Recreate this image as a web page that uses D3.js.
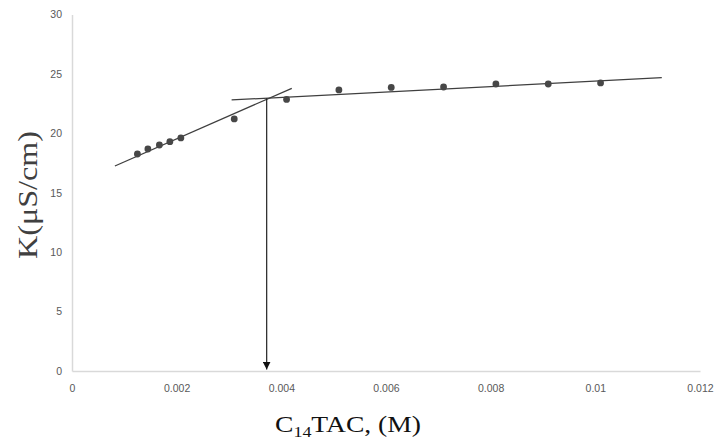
<!DOCTYPE html>
<html>
<head>
<meta charset="utf-8">
<script src="https://cdn.jsdelivr.net/npm/d3@7"></script>
<style>
  html, body { margin: 0; padding: 0; background: #fff; }
  svg { display: block; }
</style>
</head>
<body>
<svg id="chart" width="715" height="445"></svg>
<script>
// Conductivity of C14TAC solutions against concentration
const concentration = [0.00125, 0.00145, 0.00167, 0.00187, 0.00208, 0.0031, 0.0041, 0.0051, 0.0061, 0.0071, 0.0081, 0.0091, 0.0101];
const conductivity  = [18.26, 18.68, 19.02, 19.30, 19.61, 21.21, 22.85, 23.65, 23.86, 23.90, 24.15, 24.15, 24.24];

// Linear fits below and above the break, given by their end points
const fitLow  = [[0.00082, 17.25], [0.0042, 23.79]];
const fitHigh = [[0.00305, 22.81], [0.01127, 24.68]];
// Break point (CMC) marked with an arrow down to the x axis
const cmc = [0.00372, 22.95];

const xTicks = [0, 0.002, 0.004, 0.006, 0.008, 0.01, 0.012];
const yTicks = [0, 5, 10, 15, 20, 25, 30];

const svg = d3.select("#chart");
const x = d3.scaleLinear().domain([0, 0.012]).range([72, 700]);
const y = d3.scaleLinear().domain([0, 30]).range([371, 14.5]);

const axisColor = "#d9d9d9";
const tickColor = "#595959";
const ink = "#3f3f3f";

// x axis
const xAxis = svg.append("g")
  .attr("transform", `translate(0,${y(0)})`)
  .call(d3.axisBottom(x).tickValues(xTicks).tickSize(0).tickPadding(14)
    .tickFormat(d => d === 0 ? "0" : String(+d.toFixed(3))));
xAxis.select(".domain").attr("stroke", axisColor).attr("stroke-width", 1.5);
xAxis.selectAll("text").attr("fill", tickColor)
  .style("font-family", "'Liberation Sans', Arial, sans-serif").style("font-size", "10.5px");

// y axis
const yAxis = svg.append("g")
  .attr("transform", `translate(${x(0)},0)`)
  .call(d3.axisLeft(y).tickValues(yTicks).tickSize(0).tickPadding(10));
yAxis.select(".domain").attr("stroke", axisColor).attr("stroke-width", 1.5);
yAxis.selectAll("text").attr("fill", tickColor)
  .style("font-family", "'Liberation Sans', Arial, sans-serif").style("font-size", "10.5px");

// fitted lines
const line = d3.line().x(d => x(d[0])).y(d => y(d[1]));
[fitLow, fitHigh].forEach(seg => {
  svg.append("path").attr("d", line(seg))
    .attr("fill", "none").attr("stroke", ink).attr("stroke-width", 1.3);
});

// arrow from the break point down to the axis
svg.append("defs").append("marker")
  .attr("id", "arrowhead").attr("viewBox", "0 0 10 10")
  .attr("refX", 10).attr("refY", 5)
  .attr("markerWidth", 8).attr("markerHeight", 8)
  .attr("markerUnits", "userSpaceOnUse")
  .attr("orient", "auto")
  .append("path").attr("d", "M0,0 L10,5 L0,10 Z").attr("fill", "#111");
svg.append("line")
  .attr("x1", x(cmc[0])).attr("y1", y(cmc[1]))
  .attr("x2", x(cmc[0])).attr("y2", y(0) - 1.5)
  .attr("stroke", "#222").attr("stroke-width", 1.2)
  .attr("marker-end", "url(#arrowhead)");

// data points
svg.append("g").selectAll("circle")
  .data(concentration.map((c, i) => [c, conductivity[i]]))
  .join("circle")
  .attr("cx", d => x(d[0])).attr("cy", d => y(d[1]))
  .attr("r", 3.4).attr("fill", "#474747");

// axis titles
const xt = svg.append("text")
  .attr("x", 348).attr("y", 432)
  .attr("text-anchor", "middle")
  .attr("fill", "#111")
  .attr("textLength", 146)
  .attr("lengthAdjust", "spacingAndGlyphs")
  .style("font-family", "'Liberation Serif', 'Times New Roman', serif")
  .style("font-size", "23px");
xt.append("tspan").text("C");
xt.append("tspan").attr("dy", 5).style("font-size", "15px").text("14");
xt.append("tspan").attr("dy", -5).text("TAC, (M)");

svg.append("text")
  .attr("transform", "translate(37,195) rotate(-90)")
  .attr("text-anchor", "middle")
  .attr("fill", "#404040")
  .attr("textLength", 128)
  .attr("lengthAdjust", "spacingAndGlyphs")
  .style("font-family", "'Liberation Serif', 'Times New Roman', serif")
  .style("font-size", "28px")
  .text("K(μS/cm)");
</script>
</body>
</html>
